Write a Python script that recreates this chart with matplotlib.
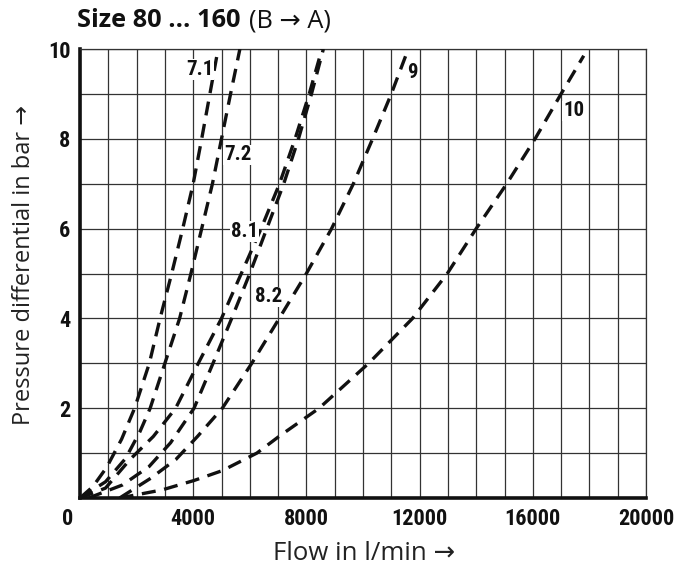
import matplotlib
matplotlib.use("Agg")
import matplotlib.pyplot as plt
import matplotlib.transforms as mtransforms

# Flow (l/min) and pressure differential (bar)
flow_71 = [0, 450, 940, 1470, 1930, 2450, 2830, 3240, 3630, 4000, 4300, 4590, 4880]
dp_71 = [0, 0.25, 0.68, 1.31, 2, 3, 4, 5, 6, 7, 8, 9, 10]

flow_72 = [0, 900, 1610, 2120, 2480, 3000, 3520, 3920, 4300, 4680, 5000, 5320, 5650]
dp_72 = [0, 0.36, 0.88, 1.48, 2, 3, 4, 5, 6, 7, 8, 9, 10]

flow_81 = [0, 900, 1770, 2590, 3380, 4180, 5000, 5700, 6400, 7050, 7600, 8100, 8550]
dp_81 = [0, 0.22, 0.86, 1.37, 2, 3, 4, 5, 6, 7, 8, 9, 10]

flow_82 = [300, 1500, 2440, 3200, 4030, 4700, 5360, 6000, 6600, 7200, 7720, 8180, 8600]
dp_82 = [0, 0.29, 0.7, 1.23, 2, 3, 4, 5, 6, 7, 8, 9, 10]

flow_9 = [1400, 2500, 3390, 4150, 5030, 6070, 7040, 8000, 8890, 9660, 10340, 11000, 11570]
dp_9 = [0, 0.44, 0.86, 1.37, 2, 3, 4, 5, 6, 7, 8, 9, 9.95]

flow_10 = [1400, 2900, 4030, 5030, 6250, 7050, 8450, 10200, 11750, 12980, 14000,
           15080, 16080, 17000, 17800]
dp_10 = [0, 0.18, 0.39, 0.61, 1.0, 1.38, 2, 3, 4, 5, 6, 7, 8, 9, 9.85]

curve_names = ["7.1", "7.2", "8.1", "8.2", "9", "10"]

x_ticks = [0, 4000, 8000, 12000, 16000, 20000]
y_ticks = [2, 4, 6, 8, 10]

# fonts (narrow bold for numbers, plain sans for titles)
narrow = ["Liberation Sans Narrow", "Roboto Condensed", "DejaVu Sans Condensed",
          "Liberation Sans", "DejaVu Sans"]
plain = ["Open Sans", "DejaVu Sans"]

fig = plt.figure(figsize=(6.86, 5.68), dpi=100)
ax = fig.add_axes([80 / 686, 1 - 498 / 568, 566 / 686, 449 / 568])

# grid every 1000 l/min and every 1 bar
ax.set_xlim(0, 20000)
ax.set_ylim(0, 10)
ax.set_xticks(range(0, 20001, 1000), minor=True)
ax.set_yticks(range(0, 11), minor=True)
ax.grid(True, which="both", color="#333333", linewidth=0.9)
ax.set_axisbelow(True)

# curves
curves = [(flow_71, dp_71), (flow_72, dp_72), (flow_81, dp_81),
          (flow_82, dp_82), (flow_9, dp_9), (flow_10, dp_10)]
for flow, dp in curves:
    ax.plot(flow, dp, color="#111111", linewidth=2.4, dashes=(4.2, 2.6),
            solid_capstyle="butt", dash_capstyle="butt", zorder=3)

# curve labels
label_pos = [(4240, 9.55), (5570, 7.64), (5800, 5.93), (6680, 4.48),
             (11750, 9.48), (17440, 8.62)]
for name, (lx, ly) in zip(curve_names, label_pos):
    ax.text(lx, ly, name, ha="center", va="center", fontsize=15,
            fontweight="bold", family=narrow, color="#111111", zorder=4,
            bbox=dict(facecolor="white", edgecolor="none", pad=0.6))

# ticks
ax.set_xticks(x_ticks)
ax.set_xticklabels([str(v) for v in x_ticks])
ax.set_yticks(y_ticks)
ax.set_yticklabels([str(v) for v in y_ticks])
ax.tick_params(which="both", length=0, pad=7)
for lab in ax.get_xticklabels() + ax.get_yticklabels():
    lab.set_family(narrow)
    lab.set_fontweight("bold")
    lab.set_fontsize(16)
    lab.set_color("#111111")
# the 0 label sits a bit left of the axis
first = ax.get_xticklabels()[0]
first.set_transform(first.get_transform() +
                    mtransforms.ScaledTranslation(-12 / 100, 0, fig.dpi_scale_trans))

# frame: heavy left/bottom, thin top/right
for side in ["left", "bottom"]:
    ax.spines[side].set_linewidth(2.6)
    ax.spines[side].set_color("#111111")
for side in ["top", "right"]:
    ax.spines[side].set_linewidth(0.9)
    ax.spines[side].set_color("#333333")

# axis titles
fig.text(364 / 686, 1 - 553 / 568, "Flow in l/min \u2192", family=plain,
         fontsize=18.5, color="#222222", ha="center", va="center")
fig.text(24 / 686, 1 - 265 / 568, "Pressure differential in bar \u2192",
         family=plain, fontsize=17, color="#222222", ha="center", va="center",
         rotation=90)

# heading
fig.text(77 / 686, 1 - 27 / 568, "Size 80 ... 160", family=plain, fontsize=18.3,
         fontweight="bold", color="#111111", ha="left", va="baseline")
fig.text(249 / 686, 1 - 27 / 568, "(B \u2192 A)", family=plain, fontsize=18.3,
         color="#111111", ha="left", va="baseline")

fig.savefig("out.png", dpi=100)
